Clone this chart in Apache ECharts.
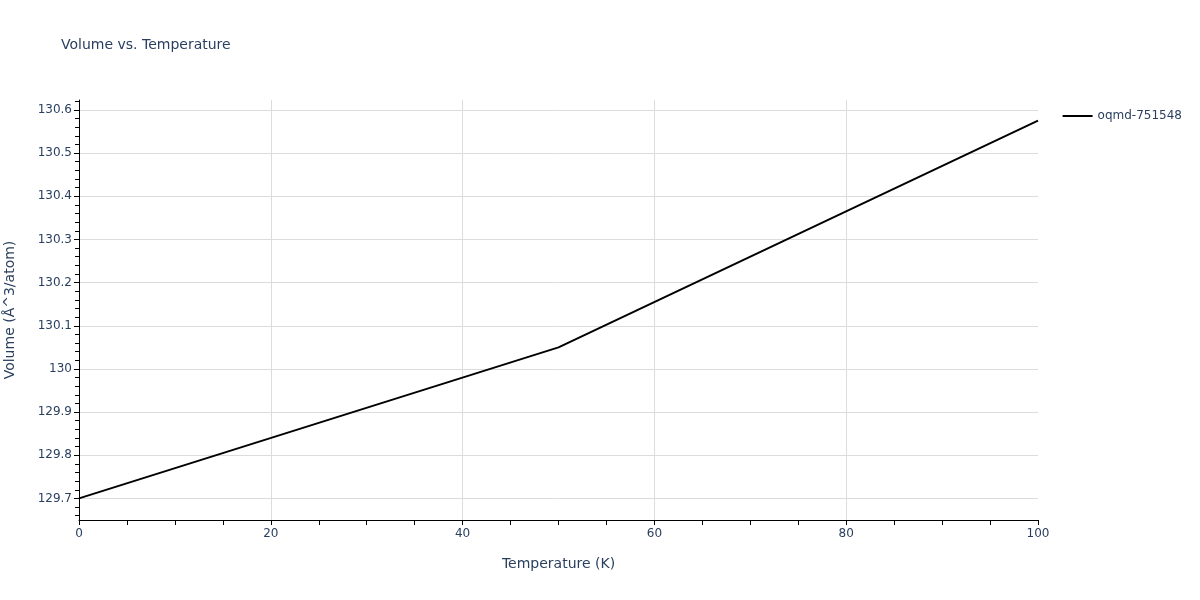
<!DOCTYPE html>
<html lang="en" style="height: 100%">
<head>
  <meta charset="UTF-8">
  <title>Volume vs. Temperature</title>
  <script src="https://cdn.jsdelivr.net/npm/echarts@6/dist/echarts.min.js"></script>
</head>
<body style="height: 100%; margin: 0; background: #fff;">
  <div id="main" style="width: 1200px; height: 600px;"></div>

  <script>
  // data
  const temperatures = [0, 50, 100];
  const volumes = [129.7, 130.05, 130.575];
  const seriesName = 'oqmd-751548';

  // y tick labels (major) and minor tick positions in between
  const yTicks = [129.7, 129.8, 129.9, 130, 130.1, 130.2, 130.3, 130.4, 130.5, 130.6];
  const yMinorTicks = [129.66, 129.68];
  yTicks.forEach(v => {
    [0.02, 0.04, 0.06, 0.08].forEach(d => yMinorTicks.push(Math.round((v + d) * 100) / 100));
  });
  const yMin = 129.65;
  const yMax = 130.623;

  const textColor = '#2a3f5f';
  const font = '"DejaVu Sans", Verdana, sans-serif';

  const chart = echarts.init(document.getElementById('main'));

  const option = {
    backgroundColor: '#fff',
    textStyle: { fontFamily: font, color: textColor },
    title: {
      text: 'Volume vs. Temperature',
      left: 56,
      top: 33,
      textStyle: { fontFamily: font, fontSize: 14, fontWeight: 'normal', color: textColor }
    },
    legend: {
      right: 13,
      top: 105,
      itemWidth: 30,
      itemHeight: 2,
      itemGap: 5,
      textStyle: { fontFamily: font, fontSize: 12, color: textColor },
      data: [{ name: seriesName, icon: 'path://M0,0 L30,0 L30,2 L0,2 Z' }]
    },
    grid: { left: 79, right: 162, top: 100, bottom: 80, containLabel: false, outerBoundsMode: 'none' },
    xAxis: {
      type: 'value',
      min: 0,
      max: 100,
      interval: 20,
      name: 'Temperature (K)',
      nameLocation: 'middle',
      nameGap: 37,
      nameTextStyle: { fontFamily: font, fontSize: 14, color: textColor },
      axisLine: { show: true, onZero: false, lineStyle: { color: '#000', width: 1 } },
      axisTick: { show: true, length: 5, lineStyle: { color: '#000' } },
      minorTick: { show: true, splitNumber: 4, length: 5, lineStyle: { color: '#000' } },
      axisLabel: { fontFamily: font, fontSize: 12, color: textColor, margin: 8 },
      splitLine: { show: true, showMinLine: false, showMaxLine: false, lineStyle: { color: '#dcdcdc', width: 1 } }
    },
    yAxis: [
      {
        type: 'value',
        min: yMin,
        max: yMax,
        name: 'Volume (Å^3/atom)',
        nameLocation: 'middle',
        nameGap: 62,
        nameTextStyle: { fontFamily: font, fontSize: 14, color: textColor },
        axisLine: { show: true, onZero: false, lineStyle: { color: '#000', width: 1 } },
        axisTick: { show: true, length: 5, customValues: yTicks, lineStyle: { color: '#000' } },
        axisLabel: {
          fontFamily: font, fontSize: 12, color: textColor, margin: 7,
          customValues: yTicks,
          formatter: v => String(Math.round(v * 10) / 10)
        },
        splitLine: { show: true, lineStyle: { color: '#dcdcdc', width: 1 } }
      },
      {
        // minor ticks only
        type: 'value',
        min: yMin,
        max: yMax,
        position: 'left',
        axisLine: { show: false, onZero: false },
        axisTick: { show: true, length: 4, customValues: yMinorTicks, lineStyle: { color: '#000' } },
        axisLabel: { show: false },
        splitLine: { show: false }
      }
    ],
    series: [
      {
        name: seriesName,
        type: 'line',
        data: temperatures.map((t, i) => [t, volumes[i]]),
        showSymbol: false,
        symbol: 'none',
        lineStyle: { color: '#000', width: 2 },
        itemStyle: { color: '#000' },
        animation: false
      }
    ]
  };

  chart.setOption(option);
  </script>
</body>
</html>
